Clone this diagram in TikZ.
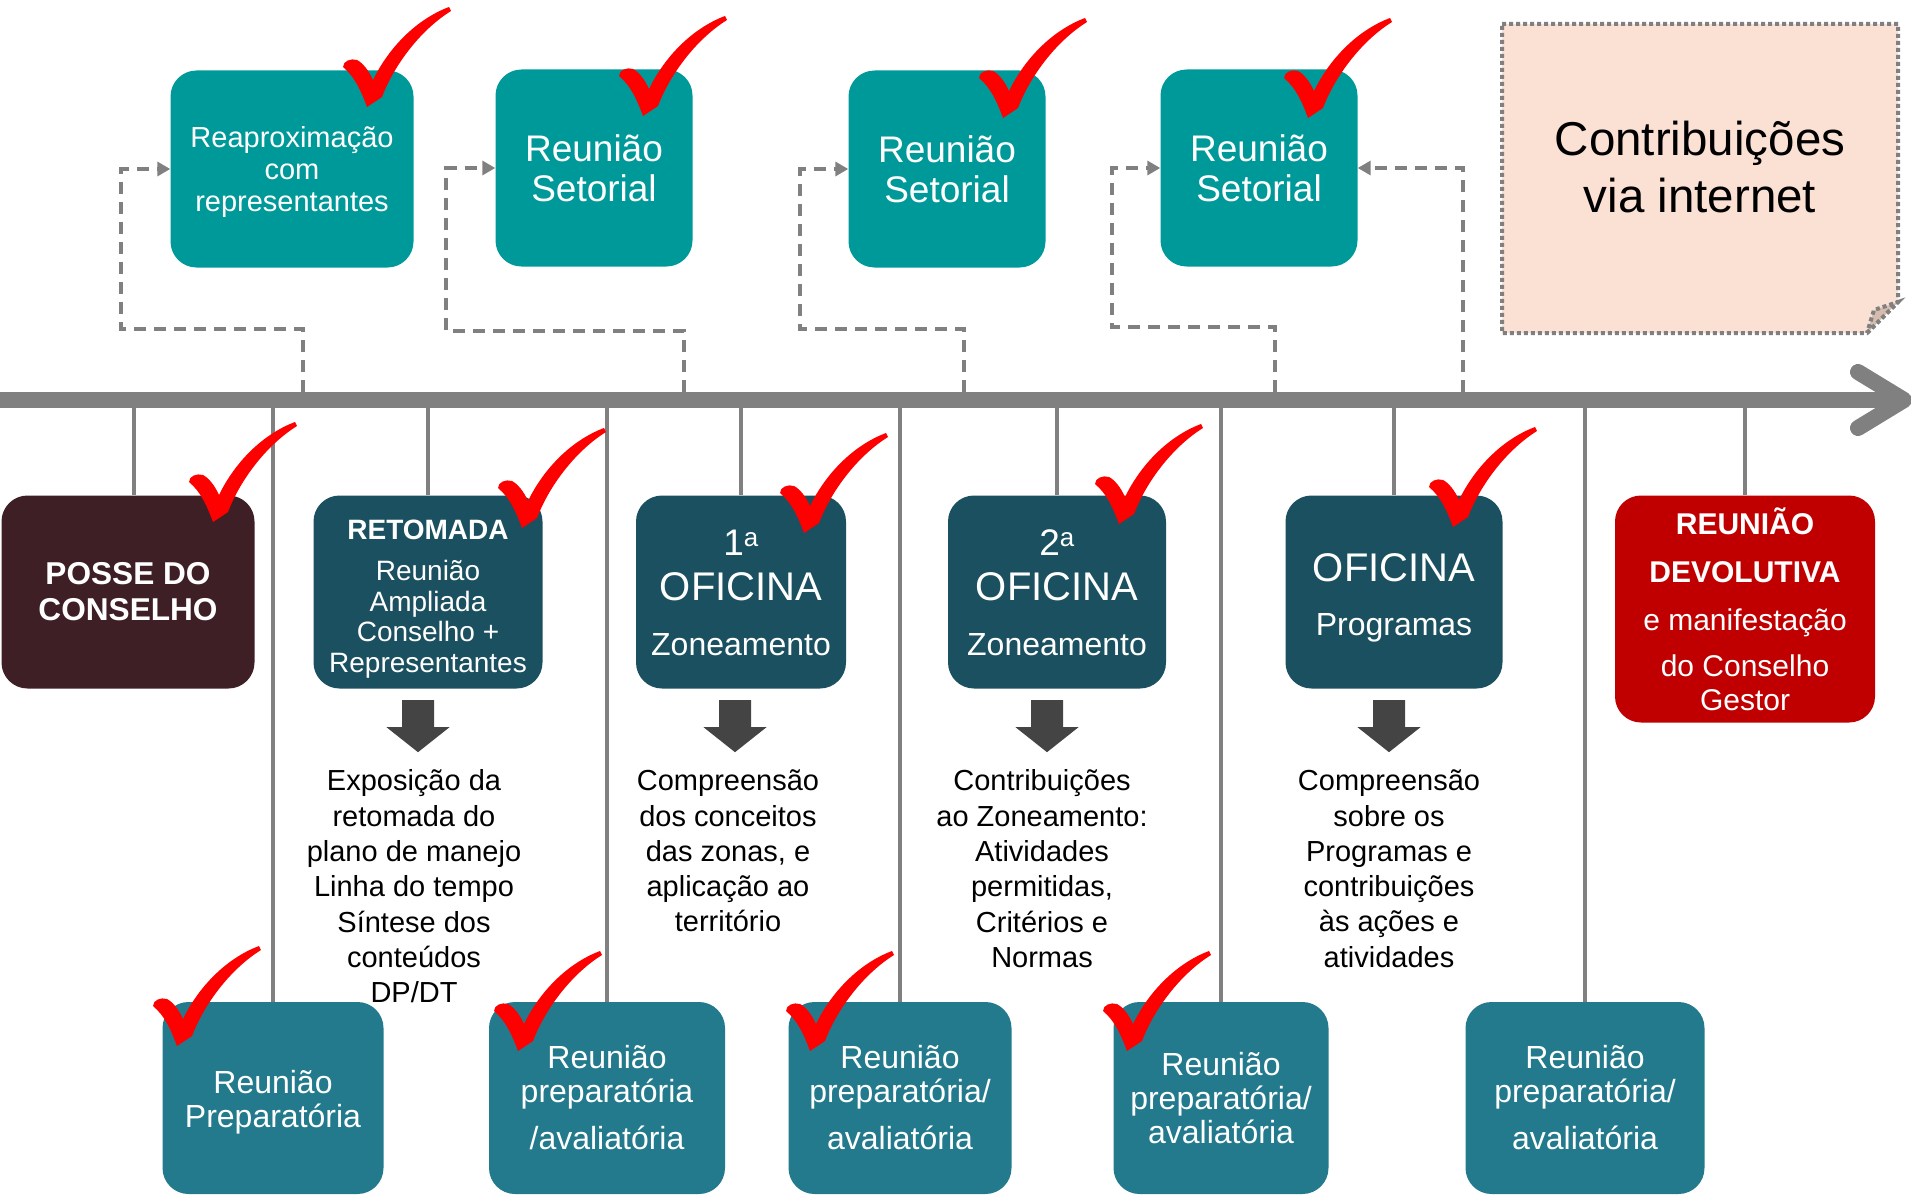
\documentclass[tikz,border=0pt]{standalone}
\usepackage{fontspec}
\setmainfont{Liberation Sans}
\usetikzlibrary{arrows.meta}

\definecolor{topteal}{HTML}{009999}
\definecolor{midteal}{HTML}{1A505F}
\definecolor{lowteal}{HTML}{237A8D}
\definecolor{posseclr}{HTML}{3F1F26}
\definecolor{devolclr}{HTML}{C00000}
\definecolor{linegray}{HTML}{808080}
\definecolor{arrowgray}{HTML}{444444}
\definecolor{notefill}{HTML}{FBE0D4}
\definecolor{foldfill}{HTML}{D5BCAF}

% invisible strut that pushes a box text down
\newcommand{\toppad}[1]{\rule{0pt}{#1}}

\tikzset{
  pics/redtick/.style={code={
    \fill[red] (0,0) .. controls (-6,-16) and (-12,-30) .. (-24,-40)
      .. controls (-24,-46) and (-16,-49) .. (-10,-47)
      .. controls (-4,-44) and (2,-36) .. (6,-27)
      .. controls (22,-60) and (50,-88) .. (82,-100)
      -- (84,-96)
      .. controls (55,-78) and (28,-44) .. (15,-10) -- cycle;}},
  pics/downarrow/.style={code={
    \fill[arrowgray] (-16,0) -- (16,0) -- (16,27) -- (31.5,27) -- (0,52)
      -- (-31.5,27) -- (-16,27) -- cycle;}}
}

\begin{document}
\begin{tikzpicture}[x=1pt,y=-1pt,
box/.style={rounded corners=26pt,text=white,align=center,inner sep=0pt},
topbox/.style={box,fill=topteal,minimum width=197pt,minimum height=197pt,
  font=\fontsize{37}{40}\selectfont},
midbox/.style={box,fill=midteal,minimum height=193pt},
lowbox/.style={box,fill=lowteal,minimum height=192pt,font=\fontsize{32}{34}\selectfont},
desc/.style={anchor=north,align=center,inner sep=0pt,font=\fontsize{29}{35.3}\selectfont},
timeline/.style={draw=linegray,line width=16pt},
stem/.style={draw=linegray,line width=4.5pt},
dashline/.style={draw=linegray,line width=4pt,dash pattern=on 12pt off 8pt,
  -{Triangle[length=13pt,width=14pt]}},
notedots/.style={draw=linegray,line width=4pt,dash pattern=on 4pt off 3pt}]
\useasboundingbox (0,0) rectangle (1911,1196);

% time line
\coordinate (tstart) at (0,400);
\coordinate (tend) at (1904,400);
\draw[timeline] (tstart) -- ([xshift=-6pt]tend);
\draw[timeline,line cap=round,line join=round]
  ([shift={(-46,-28)}]tend) -- (tend) -- ([shift={(-46,28)}]tend);

% meetings above the line
\node[topbox,minimum width=243pt,font=\fontsize{29}{32}\selectfont] (reaprox) at (292,169)
  {\toppad{27pt}Reaproximação\\com\\representantes};
\node[topbox] (setorial1) at (594,168) {Reunião\\Setorial};
\node[topbox] (setorial2) at (947,169) {Reunião\\Setorial};
\node[topbox] (setorial3) at (1259,168) {Reunião\\Setorial};

\path[notedots,fill=notefill] (1502,24) -- (1898,24) -- (1898,302) -- (1867,333)
  -- (1502,333) -- cycle;
\path[notedots,fill=foldfill] (1867,333) -- (1898,302) -- (1874,310) -- cycle;
\node[align=center,font=\fontsize{47.5}{57}\selectfont] (contrib) at (1700,167)
  {Contribuições\\via internet};

\coordinate (foot1) at (303,392);
\coordinate (foot2) at (684,392);
\coordinate (foot3) at (964,392);
\coordinate (foot4) at (1275,392);
\coordinate (foot5) at (1463,392);
\draw[dashline] (foot1) -- ++(0,-63) -| ([xshift=-49pt]reaprox.west) -- (reaprox.west);
\draw[dashline] (foot2) -- ++(0,-61) -| ([xshift=-49pt]setorial1.west) -- (setorial1.west);
\draw[dashline] (foot3) -- ++(0,-63) -| ([xshift=-48pt]setorial2.west) -- (setorial2.west);
\draw[dashline] (foot4) -- ++(0,-65) -| ([xshift=-48pt]setorial3.west) -- (setorial3.west);
\draw[dashline] (foot5) |- (setorial3.east);

% events below the line
\node[midbox,fill=posseclr,minimum width=253pt,font=\bfseries\fontsize{31.6}{36}\selectfont]
  (posse) at (128,592) {POSSE DO\\CONSELHO};
\node[midbox,minimum width=229pt,font=\fontsize{28}{30.5}\selectfont] (retomada) at (428,592)
  {\toppad{33pt}\textbf{RETOMADA}\\[11pt]Reunião\\Ampliada\\Conselho +\\Representantes};
\node[midbox,minimum width=210pt,font=\fontsize{32}{40}\selectfont] (oficina1) at (741,592)
  {\toppad{27pt}{\fontsize{37}{40}\selectfont 1\textsuperscript{a}}\\[5pt]%
   {\fontsize{40}{44}\selectfont OFICINA}\\[14.5pt]Zoneamento};
\node[midbox,minimum width=218pt,font=\fontsize{32}{40}\selectfont] (oficina2) at (1057,592)
  {\toppad{27pt}{\fontsize{37}{40}\selectfont 2\textsuperscript{a}}\\[5pt]%
   {\fontsize{40}{44}\selectfont OFICINA}\\[14.5pt]Zoneamento};
\node[midbox,minimum width=217pt,font=\fontsize{32}{40}\selectfont] (programas) at (1394,592)
  {\toppad{40pt}{\fontsize{40}{44}\selectfont OFICINA}\\[13.6pt]Programas};
\node[box,fill=devolclr,minimum width=260pt,minimum height=227pt,font=\fontsize{30}{34}\selectfont]
  (devolutiva) at (1745,609)
  {\textbf{REUNIÃO}\\[14pt]\textbf{DEVOLUTIVA}\\[14pt]e manifestação\\[12pt]do Conselho\\Gestor};

\node[lowbox,minimum width=221pt] (prep1) at (273,1098) {\toppad{31pt}Reunião\\Preparatória};
\node[lowbox,minimum width=236pt] (prep2) at (607,1098) {Reunião\\preparatória\\[13pt]/avaliatória};
\node[lowbox,minimum width=223pt] (prep3) at (900,1098) {Reunião\\preparatória/\\[13pt]avaliatória};
\node[lowbox,minimum width=215pt] (prep4) at (1221,1098) {Reunião\\preparatória/\\avaliatória};
\node[lowbox,minimum width=239pt] (prep5) at (1585,1098) {Reunião\\preparatória/\\[13pt]avaliatória};

\draw[stem] ([xshift=6pt]posse.north) -- ([xshift=6pt]posse.north |- tstart);
\foreach \n in {retomada,oficina1,oficina2,programas,devolutiva,prep1,prep2,prep3,prep4,prep5}
  \draw[stem] (\n.north) -- (\n.north |- tstart);

% results of each meeting
\pic at ([xshift=-10pt,yshift=-11.5pt]retomada.south) {downarrow};
\pic at ([xshift=-6pt,yshift=-11.5pt]oficina1.south) {downarrow};
\pic at ([xshift=-10pt,yshift=-11.5pt]oficina2.south) {downarrow};
\pic at ([xshift=-5pt,yshift=-11.5pt]programas.south) {downarrow};

\node[desc] (expos) at ([xshift=-14pt,yshift=-81pt]retomada.south)
  {Exposição da\\retomada do\\plano de manejo\\Linha do tempo\\Síntese dos\\conteúdos\\DP/DT};
\node[desc] (conceitos) at ([xshift=-13pt,yshift=-81pt]oficina1.south)
  {Compreensão\\dos conceitos\\das zonas, e\\aplicação ao\\território};
\node[desc] (contribzon) at ([xshift=-15pt,yshift=-81pt]oficina2.south)
  {Contribuições\\ao Zoneamento:\\Atividades\\permitidas,\\Critérios e\\Normas};
\node[desc] (progdesc) at ([xshift=-5pt,yshift=-81pt]programas.south)
  {Compreensão\\sobre os\\Programas e\\contribuições\\às ações e\\atividades};

% done marks
\foreach \x/\y in {367/107,643/116,1003/118,1308/118,213/522,522/528,804/533,1119/524,
  1453/527,177/1046,518/1051,810/1051,1127/1051}
  \pic at (\x,\y) {redtick};

\end{tikzpicture}
\end{document}
